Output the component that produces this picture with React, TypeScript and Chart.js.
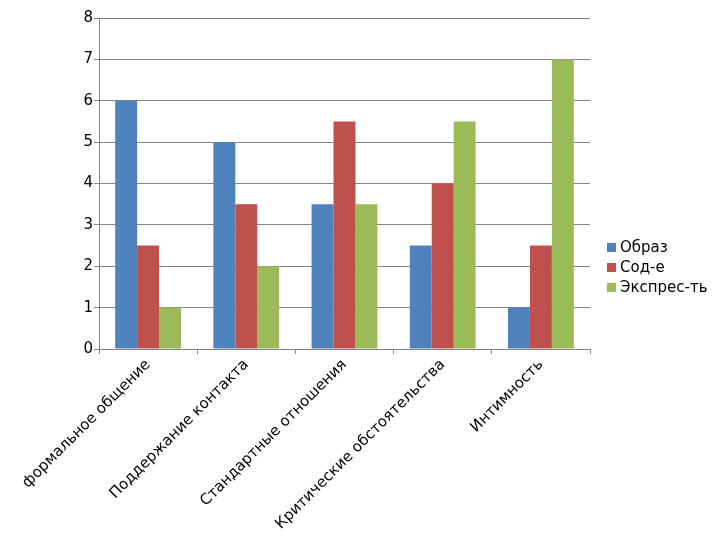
import React, { useEffect, useRef } from "react";
import { Chart, registerables } from "chart.js";

Chart.register(...registerables);

const categories = [
  "формальное общение",
  "Поддержание контакта",
  "Стандартные отношения",
  "Критические обстоятельства",
  "Интимность",
];
const seriesNames = ["Образ", "Сод-е", "Экспрес-ть"];
const obraz = [6, 5, 3.5, 2.5, 1];
const sode = [2.5, 3.5, 5.5, 4, 2.5];
const ekspres = [1, 2, 3.5, 5.5, 7];
const colors = ["#4F81BD", "#C0504D", "#9BBB59"];

const FONT = "'DejaVu Sans', sans-serif";

export default function App() {
  const ref = useRef<HTMLCanvasElement | null>(null);
  useEffect(() => {
    if (!ref.current) return;
    const chart = new Chart(ref.current, {
      type: "bar",
      data: {
        labels: categories,
        datasets: [obraz, sode, ekspres].map((d, i) => ({
          label: seriesNames[i],
          data: d,
          backgroundColor: colors[i],
          borderWidth: 0,
          categoryPercentage: 0.67,
          barPercentage: 1.0,
        })),
      },
      options: {
        animation: false,
        responsive: false,
        devicePixelRatio: 1,
        layout: { padding: { left: 0, right: 130, top: 18, bottom: 0 } },
        plugins: { legend: { display: false }, tooltip: { enabled: false } },
        scales: {
          x: {
            offset: true,
            grid: {
              offset: true,
              drawOnChartArea: false,
              drawTicks: true,
              tickLength: 5,
              color: "#868686",
            },
            border: { color: "#868686" },
            ticks: {
              minRotation: 45,
              maxRotation: 45,
              autoSkip: false,
              padding: 2,
              color: "#000",
              font: { family: FONT, size: 15 },
            },
            afterFit: (s: any) => {
              s.height = 191;
            },
          },
          y: {
            min: 0,
            max: 8,
            ticks: {
              stepSize: 1,
              padding: 1,
              color: "#000",
              font: { family: FONT, size: 15 },
            },
            grid: { color: "#868686", tickLength: 5 },
            border: { color: "#868686" },
            afterFit: (s: any) => {
              s.width = 99;
            },
          },
        },
      },
    });
    return () => chart.destroy();
  }, []);

  return (
    <div style={{ position: "fixed", left: 0, top: 0, width: 720, height: 540, background: "#fff" }}>
      <canvas ref={ref} width={720} height={540} style={{ display: "block" }} />
      <div
        style={{
          position: "absolute",
          left: 607,
          top: 237,
          fontFamily: FONT,
          fontSize: 15,
          lineHeight: "20px",
          color: "#000",
        }}
      >
        {seriesNames.map((n, i) => (
          <div key={n} style={{ display: "flex", alignItems: "center" }}>
            <span
              style={{
                display: "inline-block",
                width: 9,
                height: 9,
                background: colors[i],
                marginRight: 4,
              }}
            />
            <span>{n}</span>
          </div>
        ))}
      </div>
    </div>
  );
}
